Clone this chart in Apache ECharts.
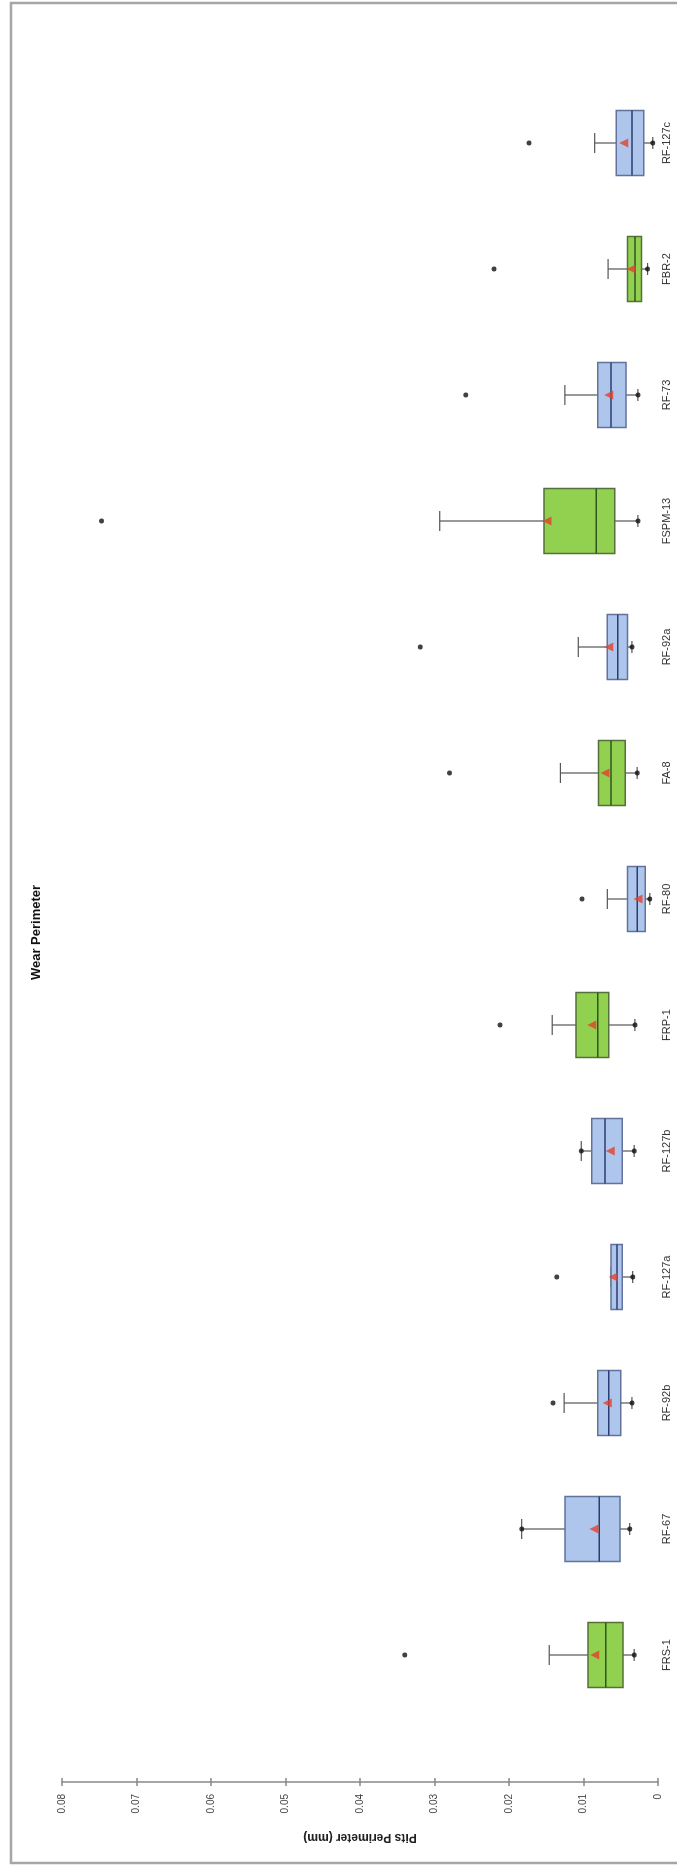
<!DOCTYPE html>
<html>
<head>
<meta charset="utf-8">
<title>Wear Perimeter</title>
<script src="https://cdn.jsdelivr.net/npm/echarts@6/dist/echarts.min.js"></script>
<style>
html, body { margin: 0; padding: 0; background: #fff; overflow: hidden; width: 677px; height: 1865px; }
/* chart is drawn landscape, then turned a quarter left to stand in the page */
#myChart {
	position: absolute; left: 0; top: 0;
	width: 1865px; height: 677px;
	transform-origin: 0 0;
	transform: translateY(1865px) rotate(-90deg);
}
</style>
</head>
<body>
<div id="myChart"></div>
<script>
var categories = ['FRS-1', 'RF-67', 'RF-92b', 'RF-127a', 'RF-127b', 'FRP-1', 'RF-80', 'FA-8', 'RF-92a', 'FSPM-13', 'RF-73', 'FBR-2', 'RF-127c'];
var minVals    = [0.0032, 0.0038, 0.0035, 0.0034, 0.0032, 0.0031, 0.0011, 0.0028, 0.0035, 0.0027, 0.0027, 0.0014, 0.0007];
var q1Vals     = [0.0047, 0.0051, 0.0050, 0.0048, 0.0048, 0.0066, 0.0017, 0.0044, 0.0041, 0.0058, 0.0043, 0.0022, 0.0019];
var medianVals = [0.0070, 0.0079, 0.0066, 0.0055, 0.0071, 0.0081, 0.0028, 0.0063, 0.0054, 0.0083, 0.0063, 0.0031, 0.0035];
var q3Vals     = [0.0094, 0.0125, 0.0081, 0.0063, 0.0089, 0.0110, 0.0041, 0.0080, 0.0068, 0.0153, 0.0081, 0.0041, 0.0056];
var maxVals    = [0.0146, 0.0183, 0.0126, 0.0063, 0.0103, 0.0142, 0.0068, 0.0131, 0.0107, 0.0293, 0.0125, 0.0067, 0.0085];
var meanVals   = [0.0085, 0.0086, 0.0068, 0.0060, 0.0064, 0.0089, 0.0027, 0.0071, 0.0066, 0.0149, 0.0066, 0.0036, 0.0046];
// black points beyond (or at) the upper whisker
var outlierVals = [0.0340, 0.0183, 0.0141, 0.0136, 0.0103, 0.0212, 0.0102, 0.0280, 0.0319, 0.0747, 0.0258, 0.0220, 0.0173];
var tickVals = [0, 0.01, 0.02, 0.03, 0.04, 0.05, 0.06, 0.07, 0.08];

var font = '"Liberation Sans", Arial, sans-serif';

var boxData = categories.map(function(name, i) {
	return [i, minVals[i], q1Vals[i], medianVals[i], q3Vals[i], maxVals[i], name.charAt(0) === 'F' ? 1 : 0];
});
var pairs = function(arr) {
	return arr.map(function(v, i) { return [i, v]; });
};

//箱体 + 须线
var renderBox = function(params, api) {
	var idx = api.value(0);
	var green = api.value(6) === 1;
	var pMin = api.coord([idx, api.value(1)]);
	var pQ1 = api.coord([idx, api.value(2)]);
	var pMed = api.coord([idx, api.value(3)]);
	var pQ3 = api.coord([idx, api.value(4)]);
	var pMax = api.coord([idx, api.value(5)]);
	var cx = pMed[0];
	var hw = 32.5;
	var capW = 10;
	var wStyle = { stroke: '#555', lineWidth: 1.2 };
	var fill = green ? '#92d050' : '#aec6ec';
	var edge = green ? '#55703a' : '#62729c';
	var mid = green ? '#2f5520' : '#2c3c72';
	return {
		type: 'group',
		children: [
			{ type: 'line', shape: { x1: cx, y1: pQ3[1], x2: cx, y2: pMax[1] }, style: wStyle },
			{ type: 'line', shape: { x1: cx - capW, y1: pMax[1], x2: cx + capW, y2: pMax[1] }, style: wStyle },
			{ type: 'line', shape: { x1: cx, y1: pQ1[1], x2: cx, y2: pMin[1] }, style: wStyle },
			{ type: 'line', shape: { x1: cx - 6, y1: pMin[1], x2: cx + 6, y2: pMin[1] }, style: wStyle },
			{ type: 'rect', shape: { x: cx - hw, y: pQ3[1], width: hw * 2, height: pQ1[1] - pQ3[1] },
				style: { fill: fill, stroke: edge, lineWidth: 1.5 } },
			{ type: 'line', shape: { x1: cx - hw, y1: pMed[1], x2: cx + hw, y2: pMed[1] },
				style: { stroke: mid, lineWidth: 1.5 } }
		]
	};
};

var chart = function() {
	var myChart = echarts.init(document.getElementById('myChart'));
	var valueAxis = {
		type: 'value',
		position: 'left',
		min: 0,
		max: 0.08,
		interval: 0.01,
		offset: 64,
		splitLine: { show: false }
	};
	var option = {
		animation: false,
		backgroundColor: '#fff',
		title: {
			text: 'Wear Perimeter',
			left: 'center',
			top: 25,
			textStyle: { fontFamily: font, fontSize: 13, fontWeight: 'bold', color: '#111' }
		},
		grid: { left: 147, right: 80, top: 62, bottom: 19 },
		xAxis: {
			type: 'category',
			data: categories,
			boundaryGap: true,
			axisLine: { show: false },
			axisTick: { show: false },
			axisLabel: { margin: 3, fontFamily: font, fontSize: 11, color: '#333' }
		},
		yAxis: [
			Object.assign({}, valueAxis, {
				name: 'Pits Perimeter (mm)',
				nameLocation: 'middle',
				nameRotate: 90,
				nameGap: 49,
				nameTextStyle: { fontFamily: font, fontSize: 12, fontWeight: 'bold', color: '#222' },
				axisLine: { show: true, lineStyle: { color: '#888', width: 1.5 } },
				axisTick: { show: true, length: 4, lineStyle: { color: '#888', width: 1.5 } },
				axisLabel: {
					margin: 12,
					fontFamily: font,
					fontSize: 10,
					color: '#444',
					formatter: function(v) {
						return tickVals.indexOf(Number(v.toFixed(2))) >= 0 ? String(Number(v.toFixed(2))) : '';
					}
				}
			}),
			Object.assign({}, valueAxis, {
				axisLine: { show: false },
				axisTick: { show: true, inside: true, length: 4, lineStyle: { color: '#888', width: 1.5 } },
				axisLabel: { show: false }
			})
		],
		graphic: [{
			type: 'rect',
			shape: { x: 2, y: 11, width: 1860, height: 700 },
			style: { fill: null, stroke: '#a6a6a6', lineWidth: 2.5 },
			silent: true
		}],
		series: [
			{
				name: 'box',
				type: 'custom',
				renderItem: renderBox,
				encode: { x: 0, y: [1, 2, 3, 4, 5] },
				data: boxData,
				z: 2
			},
			{
				name: 'min',
				type: 'scatter',
				symbol: 'circle',
				symbolSize: 5,
				itemStyle: { color: '#111' },
				data: pairs(minVals),
				z: 3
			},
			{
				name: 'outliers',
				type: 'scatter',
				symbol: 'circle',
				symbolSize: 5,
				itemStyle: { color: '#111' },
				data: pairs(outlierVals),
				z: 3
			},
			{
				name: 'mean',
				type: 'scatter',
				symbol: 'triangle',
				symbolSize: 9,
				itemStyle: { color: '#e4402c' },
				data: pairs(meanVals),
				z: 4
			}
		]
	};
	myChart.setOption(option);
};
chart();
</script>
</body>
</html>
